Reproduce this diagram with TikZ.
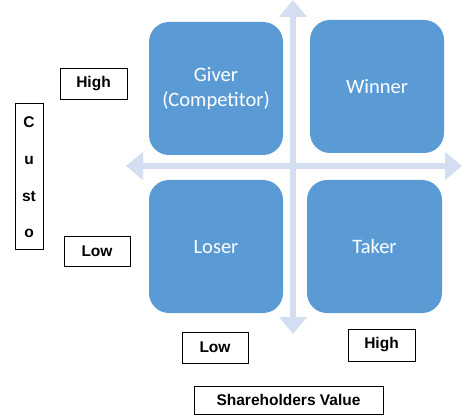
\documentclass[tikz,border=0pt]{standalone}
\usepackage{fontspec}
\setmainfont{Liberation Sans}
\newfontfamily\calib{Carlito}
\usetikzlibrary{arrows.meta}
\definecolor{boxblue}{HTML}{5B9BD5}
\definecolor{axisblue}{HTML}{D3DEF0}
\tikzset{
  quad/.style={fill=boxblue, draw=none, rounded corners=20pt, inner sep=0pt,
    text=white, font=\calib\fontsize{20.5}{25}\selectfont, align=center},
  labfont/.style={font=\bfseries\fontsize{15.5}{18}\selectfont},
  lab/.style={draw=black, line width=0.8pt, inner sep=0pt, labfont, align=center},
  axis/.style={draw=axisblue, line width=6pt, {Triangle[width=27pt,length=17pt]}-{Triangle[width=27pt,length=17pt]}}
}
\begin{document}
\begin{tikzpicture}[x=1pt,y=-1pt]
\useasboundingbox[fill=white] (0,0) rectangle (462,419);
% axes
\coordinate (vt) at (293,0);
\coordinate (vb) at (293,334);
\coordinate (hl) at (126,166);
\coordinate (hr) at (462,166);
\draw[axis] (vt) -- (vb);
\draw[axis] (hl) -- (hr);
% quadrants
\node[quad, minimum width=134pt, minimum height=133pt] (giver) at (216,88.5) {Giver\\(Competitor)};
\node[quad, minimum width=134pt, minimum height=133pt] (winner) at (377,86.5) {Winner};
\node[quad, minimum width=134pt, minimum height=133pt] (loser) at (216,246.5) {Loser};
\node[quad, minimum width=135pt, minimum height=133pt] (taker) at (374.5,246.5) {Taker};
% labels
\node[lab, minimum width=67pt, minimum height=31pt] (yhigh) at (93.5,83.5) {High};
\node[lab, minimum width=66pt, minimum height=30pt] (ylow) at (97,251) {Low};
\node[lab, minimum width=28pt, minimum height=146pt] (custo) at (29,176) {};
\node[labfont] (c1) at (29,122) {C};
\node[labfont] (c2) at (29,160) {u};
\node[labfont] (c3) at (29,197) {st};
\node[labfont] (c4) at (29,233) {o};
\node[lab, minimum width=66pt, minimum height=31pt] (xlow) at (215,347.5) {Low};
\node[lab, minimum width=67pt, minimum height=32pt] (xhigh) at (381.5,345) {High};
\node[lab, minimum width=189pt, minimum height=28pt] (share) at (288.5,400) {Shareholders Value};
\end{tikzpicture}
\end{document}
